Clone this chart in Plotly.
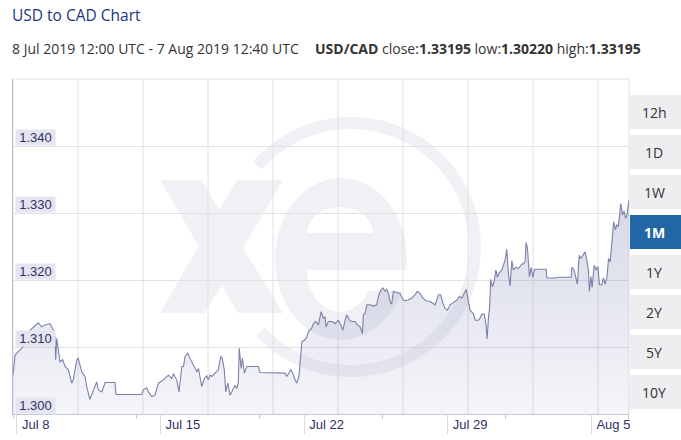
import math
import pandas as pd
import plotly.graph_objects as go

# ---------------- data ----------------
START = "2019-07-08 12:00"
END = "2019-08-07 12:40"
pair = "USD/CAD"
title_text = "USD to CAD Chart"
range_label = "8 Jul 2019 12:00 UTC - 7 Aug 2019 12:40 UTC"

# time offsets (days from START) and USD/CAD rate
day_offsets = [
    0.00, 0.10, 0.26, 0.42, 0.59, 0.75, 0.83, 0.99, 1.23, 1.40, 1.56, 1.80, 1.97, 2.05, 2.08, 2.13,
    2.29, 2.42, 2.54, 2.70, 2.86, 2.94, 3.11, 3.18, 3.27, 3.35, 3.51, 3.59, 3.75, 3.92, 4.08, 4.16,
    4.33, 4.49, 4.97, 5.02, 6.27, 6.35, 6.52, 6.60, 6.76, 6.92, 7.09, 7.33, 7.49, 7.57, 7.74, 7.82,
    7.98, 8.09, 8.23, 8.31, 8.39, 8.52, 8.63, 8.79, 8.96, 9.04, 9.12, 9.20, 9.33, 9.44, 9.52, 9.61,
    9.69, 9.85, 10.01, 10.13, 10.20, 10.30, 10.37, 10.47, 10.58, 10.71, 10.82, 10.91, 10.98, 11.03,
    11.12, 11.18, 11.28, 11.40, 11.96, 12.04, 13.26, 13.34, 13.46, 13.55, 13.64, 13.72, 13.83, 13.94,
    14.08, 14.21, 14.32, 14.40, 14.56, 14.64, 14.76, 14.89, 15.02, 15.13, 15.21, 15.26, 15.37, 15.54,
    15.70, 15.86, 15.98, 16.08, 16.19, 16.27, 16.40, 16.51, 16.68, 16.79, 16.92, 17.03, 17.08, 17.16,
    17.25, 17.41, 17.57, 17.73, 17.81, 17.90, 18.03, 18.14, 18.22, 18.30, 18.38, 18.46, 18.54, 18.71,
    18.87, 19.00, 19.11, 19.27, 19.44, 19.60, 19.71, 19.84, 19.98, 20.14, 20.33, 20.58, 20.74, 20.85,
    20.95, 21.06, 21.18, 21.31, 21.47, 21.63, 21.76, 21.88, 21.99, 22.09, 22.17, 22.28, 22.44, 22.53,
    22.69, 22.77, 22.85, 22.97, 23.05, 23.11, 23.18, 23.23, 23.29, 23.37, 23.45, 23.54, 23.61, 23.71,
    23.83, 23.91, 23.99, 24.07, 24.15, 24.23, 24.32, 24.39, 24.53, 24.64, 24.75, 24.88, 24.96, 25.01,
    25.08, 25.17, 25.26, 25.34, 25.42, 25.99, 26.02, 26.47, 26.51, 27.21, 27.24, 27.35, 27.45, 27.51,
    27.60, 27.68, 27.78, 27.89, 27.97, 28.05, 28.10, 28.17, 28.23, 28.33, 28.43, 28.51, 28.59, 28.70,
    28.78, 28.86, 28.95, 29.03, 29.11, 29.20, 29.28, 29.36, 29.43, 29.51, 29.63, 29.71, 29.79, 29.86,
    29.93, 30.0278,
]
rates = [
    1.3058, 1.3088, 1.3093, 1.3098, 1.3106, 1.3110, 1.3125, 1.3130, 1.3136, 1.3130, 1.3133, 1.3135, 1.3125, 1.3115, 1.3081, 1.3113,
    1.3078, 1.3081, 1.3071, 1.3066, 1.3046, 1.3051, 1.3081, 1.3083, 1.3071, 1.3063, 1.3056, 1.3041, 1.3022, 1.3036, 1.3048, 1.3036,
    1.3033, 1.3047, 1.3047, 1.3029, 1.3029, 1.3036, 1.3039, 1.3033, 1.3026, 1.3028, 1.3046, 1.3051, 1.3056, 1.3058, 1.3053, 1.3060,
    1.3051, 1.3033, 1.3071, 1.3071, 1.3086, 1.3091, 1.3083, 1.3073, 1.3063, 1.3068, 1.3053, 1.3041, 1.3053, 1.3057, 1.3051, 1.3058,
    1.3056, 1.3061, 1.3066, 1.3086, 1.3083, 1.3066, 1.3033, 1.3046, 1.3028, 1.3036, 1.3043, 1.3038, 1.3046, 1.3098,
    1.3068, 1.3083, 1.3061, 1.3071, 1.3071, 1.3062, 1.3061, 1.3056, 1.3061, 1.3066, 1.3061, 1.3053, 1.3046, 1.3056,
    1.3108, 1.3110, 1.3115, 1.3123, 1.3128, 1.3135, 1.3138, 1.3133, 1.3153, 1.3143, 1.3145, 1.3130, 1.3138, 1.3138,
    1.3135, 1.3140, 1.3133, 1.3125, 1.3140, 1.3148, 1.3140, 1.3138, 1.3138, 1.3133, 1.3130, 1.3120, 1.3148, 1.3150,
    1.3163, 1.3163, 1.3161, 1.3163, 1.3175, 1.3183, 1.3188, 1.3183, 1.3186, 1.3180, 1.3168, 1.3164, 1.3183, 1.3181,
    1.3180, 1.3171, 1.3169, 1.3170, 1.3173, 1.3178, 1.3183, 1.3180, 1.3173, 1.3169, 1.3168, 1.3163, 1.3178, 1.3178,
    1.3166, 1.3158, 1.3155, 1.3163, 1.3166, 1.3170, 1.3175, 1.3173, 1.3180, 1.3186, 1.3173, 1.3155, 1.3150, 1.3140,
    1.3140, 1.3143, 1.3149, 1.3149, 1.3135, 1.3112, 1.3145, 1.3158, 1.3201, 1.3190, 1.3197, 1.3215, 1.3204, 1.3211,
    1.3215, 1.3222, 1.3230, 1.3246, 1.3210, 1.3191, 1.3229, 1.3215, 1.3219, 1.3217, 1.3222, 1.3225, 1.3227, 1.3256,
    1.3247, 1.3205, 1.3219, 1.3204, 1.3216, 1.3216, 1.3203, 1.3203, 1.3204, 1.3204, 1.3219, 1.3215, 1.3204, 1.3194,
    1.3237, 1.3232, 1.3237, 1.3242, 1.3230, 1.3215, 1.3183, 1.3205, 1.3189, 1.3222, 1.3215, 1.3220, 1.3193, 1.3193,
    1.3203, 1.3194, 1.3203, 1.3232, 1.3227, 1.3267, 1.3287, 1.3275, 1.3282, 1.3280, 1.3314, 1.3297, 1.3303, 1.3292,
    1.3297, 1.33195,
]

y_ticks = [1.300, 1.310, 1.320, 1.330, 1.340]
x_tick_text = ["Jul 8", "Jul 15", "Jul 22", "Jul 29", "Aug 5"]
range_buttons = ["12h", "1D", "1W", "1M", "1Y", "2Y", "5Y", "10Y"]
active_button = "1M"

# ---------------- derived ----------------
t0 = pd.Timestamp(START)
t1 = pd.Timestamp(END)
times = [t0 + pd.to_timedelta(d, unit="D") for d in day_offsets]
x_tickvals = [t0 + pd.Timedelta(hours=4, minutes=40) + pd.Timedelta(days=7 * k) for k in range(len(x_tick_text))]
minor_vals = [t0 + pd.Timedelta(days=6 * k) for k in range(6)]
close_v, low_v, high_v = rates[-1], min(rates), max(rates)

# ---------------- layout geometry (pixels) ----------------
W, H = 681, 440
L, R, T, B = 13, 629, 79, 414
PW, PH = R - L, B - T


def px(x):
    return (x - L) / PW


def py(y):
    return (B - y) / PH


def path_from(points):
    return "M " + " L ".join(f"{px(x):.5f},{py(y):.5f}" for x, y in points) + " Z"


fig = go.Figure()
fig.add_trace(go.Scatter(
    x=times, y=rates, mode="lines",
    line=dict(color="#7b81a8", width=1.1),
    fill="tozeroy",
    fillgradient=dict(type="vertical", start=1.300, stop=1.334,
                      colorscale=[[0, "rgba(150,155,195,0.10)"], [1, "rgba(150,155,195,0.40)"]]),
    hoverinfo="skip",
))

shapes = []
WM = "#f0f0f5"
# watermark ring
cx, cy, Ro, Ri = 351, 247, 130, 118
angs = [math.radians(a) for a in range(-139, 140, 3)]
outer = [(cx + Ro * math.cos(a), cy + Ro * math.sin(a)) for a in angs]
inner = [(cx + Ri * math.cos(a), cy + Ri * math.sin(a)) for a in reversed(angs)]
shapes.append(dict(type="path", path=path_from(outer + inner), xref="paper", yref="paper",
                   fillcolor=WM, line=dict(width=0), layer="below"))
# watermark "x"
shapes.append(dict(type="path", path=path_from([(160, 180), (201, 180), (283, 313), (238, 313)]),
                   xref="paper", yref="paper", fillcolor=WM, line=dict(width=0), layer="below"))
shapes.append(dict(type="path", path=path_from([(237, 180), (283, 180), (205, 313), (160, 313)]),
                   xref="paper", yref="paper", fillcolor=WM, line=dict(width=0), layer="below"))
# watermark "e"
ecx, ecy, erx, ery = 341, 259, 66, 81
ell = [(ecx + erx * math.cos(math.radians(a)), ecy + ery * math.sin(math.radians(a))) for a in range(0, 360, 4)]
shapes.append(dict(type="path", path=path_from(ell), xref="paper", yref="paper",
                   fillcolor=WM, line=dict(width=0), layer="below"))
top_hole = [(340 + 33 * math.cos(math.radians(a)), 233 + 26 * math.sin(math.radians(a))) for a in range(180, 361, 6)]
shapes.append(dict(type="path", path=path_from(top_hole), xref="paper", yref="paper",
                   fillcolor="white", line=dict(width=0), layer="below"))
low_hole = [(410, 270), (410, 291)] + [
    (340 + 33 * math.cos(math.radians(a)), 270 + 42 * math.sin(math.radians(a))) for a in range(30, 181, 6)]
shapes.append(dict(type="path", path=path_from(low_hole), xref="paper", yref="paper",
                   fillcolor="white", line=dict(width=0), layer="below"))

# vertical grid lines (fixed pixel spacing)
for k in range(10):
    xx = px(L + 65 * k)
    shapes.append(dict(type="line", xref="paper", yref="paper", x0=xx, x1=xx, y0=0, y1=1,
                       line=dict(color="#e1e1e1", width=1), layer="between"))
shapes.append(dict(type="line", xref="paper", yref="paper", x0=1, x1=1, y0=0, y1=1,
                   line=dict(color="#e1e1e1", width=1), layer="between"))
shapes.append(dict(type="line", xref="paper", yref="paper", x0=0, x1=1, y0=1, y1=1,
                   line=dict(color="#e1e1e1", width=1), layer="between"))

annotations = []
# range buttons
for i, lab in enumerate(range_buttons):
    top = 95 + 40 * i
    active = lab == active_button
    shapes.append(dict(type="rect", xref="paper", yref="paper",
                       x0=px(630), x1=px(690), y0=py(top + 34), y1=py(top),
                       fillcolor="#2266a6" if active else "#eeeef1", line=dict(width=0), layer="above"))
    annotations.append(dict(xref="paper", yref="paper", x=px(654), y=py(top + 17), text=f"<b>{lab}</b>" if active else lab,
                            showarrow=False, xanchor="center", yanchor="middle",
                            font=dict(family="Open Sans", size=14, color="white" if active else "#333333")))

# y labels with box
for v in y_ticks:
    annotations.append(dict(xref="paper", yref="y", x=px(15), y=v, text=f"{v:.3f}", showarrow=False,
                            xanchor="left", yanchor="bottom", width=39, height=15, borderpad=0,
                            bgcolor="#e4e5f0", align="center", valign="middle",
                            font=dict(family="Liberation Sans, Arial", size=13, color="#2e3164")))

# title + subtitle
annotations.append(dict(xref="paper", yref="paper", x=px(10), y=py(15), text=title_text, showarrow=False,
                        xanchor="left", yanchor="middle",
                        font=dict(family="Open Sans", size=15.5, color="#1a3580")))
annotations.append(dict(xref="paper", yref="paper", x=px(10), y=py(49), text=range_label, showarrow=False,
                        xanchor="left", yanchor="middle",
                        font=dict(family="Open Sans", size=14, color="#333333")))
annotations.append(dict(xref="paper", yref="paper", x=px(313), y=py(49),
                        text=f"<b>{pair}</b> close:<b>{close_v:.5f}</b> low:<b>{low_v:.5f}</b> high:<b>{high_v:.5f}</b>",
                        showarrow=False, xanchor="left", yanchor="middle",
                        font=dict(family="Open Sans", size=14, color="#333333")))

fig.update_layout(
    width=W, height=H,
    margin=dict(l=L, r=W - R, t=T, b=H - B, pad=0, autoexpand=False),
    paper_bgcolor="white", plot_bgcolor="white",
    showlegend=False, hovermode=False,
    shapes=shapes, annotations=annotations,
    xaxis=dict(
        type="date", range=[t0, t1], showgrid=False, zeroline=False, automargin=False,
        showline=True, linecolor="#c6c8dd", linewidth=1,
        tickmode="array", tickvals=x_tickvals, ticktext=x_tick_text,
        ticks="outside", ticklen=19, tickcolor="#dcdcdc", tickwidth=1,
        ticklabelposition="outside right", ticklabelstandoff=-2, ticklabelshift=4,
        tickfont=dict(family="Liberation Sans, Arial", size=13, color="#2e3164"),
        minor=dict(tickmode="array", tickvals=minor_vals, ticks="outside", ticklen=4,
                   tickcolor="#c6c8dd", showgrid=False),
    ),
    yaxis=dict(
        range=[1.300, 1.350], dtick=0.01, tick0=1.30, showticklabels=False, automargin=False,
        showgrid=True, gridcolor="#e1e1e1", gridwidth=1, zeroline=False,
        showline=True, linecolor="#b9bcd3", linewidth=1, ticks="",
    ),
)

fig.write_html("out.html", config={"displayModeBar": False},
               post_script="document.body.style.margin='0';")
